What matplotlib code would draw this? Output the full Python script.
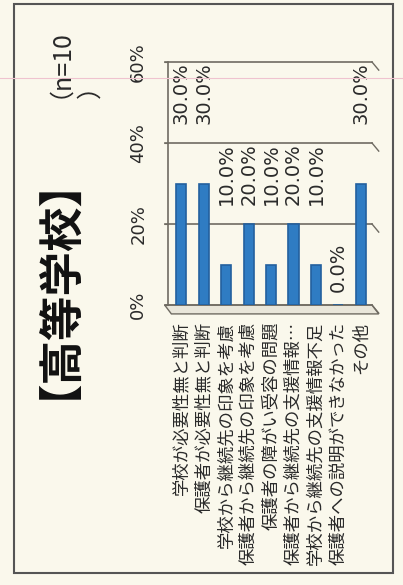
import matplotlib
matplotlib.use('Agg')
import matplotlib.pyplot as plt
from matplotlib.patches import Rectangle, Polygon

categories = ['学校が必要性無と判断',
              '保護者が必要性無と判断',
              '学校から継続先の印象を考慮',
              '保護者から継続先の印象を考慮',
              '保護者の障がい受容の問題',
              '保護者から継続先の支援情報…',
              '学校から継続先の支援情報不足',
              '保護者への説明ができなかった',
              'その他']
values = [0.30, 0.30, 0.10, 0.20, 0.10, 0.20, 0.10, 0.00, 0.30]
yticks = [0.0, 0.2, 0.4, 0.6]
ytick_labels = ['0%', '20%', '40%', '60%']
title = '【高等学校】'
note = '（n=10\n）'

W, H = 403, 585
bg = '#faf8ec'
bar_col = '#2f7cc3'
txt_col = '#2a2a2a'
grid_col = '#6f6b62'
cjk = ['Noto Sans CJK JP', 'DejaVu Sans']

fig = plt.figure(figsize=(W / 100, H / 100), dpi=100, facecolor=bg)

def fx(px):
    return px / W

def fy(py):
    return 1 - py / H

# outer frame of the scanned panel
fig.patches.append(Rectangle((fx(14), fy(573)), fx(393) - fx(14), fy(4) - fy(573),
                             transform=fig.transFigure, fill=False,
                             edgecolor='#555555', linewidth=1.5))
# faint pink scan line
fig.add_artist(plt.Line2D([0, 1], [fy(78), fy(78)], transform=fig.transFigure,
                          color='#efc3cf', linewidth=0.8))

ax = fig.add_axes([fx(168), fy(305), fx(372) - fx(168), fy(62) - fy(305)])
ax.set_facecolor('none')

x = list(range(len(categories)))
ax.bar(x, values, width=0.45, color=bar_col, edgecolor='#23609e',
       linewidth=1.2, zorder=3)

ax.set_xlim(-0.6, 8.5)
ax.set_ylim(0, 0.6)

# gridlines with a little 3D-like kink at the right end
for yv in yticks:
    ax.plot([-0.75, 8.5], [yv, yv], color=grid_col, linewidth=1.2,
            clip_on=False, zorder=2)
    ax.plot([8.5, 8.8], [yv, yv - 0.02], color=grid_col, linewidth=1.0,
            clip_on=False, zorder=2)

# floor of the pseudo 3D chart
floor = Polygon([(-0.75, 0), (8.5, 0), (8.8, -0.022), (-0.45, -0.022)],
                closed=True, facecolor='#e9e6da', edgecolor=grid_col,
                linewidth=1.0, clip_on=False, zorder=1)
ax.add_patch(floor)

for s in ['top', 'right', 'bottom']:
    ax.spines[s].set_visible(False)
ax.spines['left'].set_color(grid_col)
ax.spines['left'].set_linewidth(1.2)

ax.set_yticks(yticks)
ax.set_yticklabels(ytick_labels, rotation=90, va='center', fontsize=13,
                   color=txt_col, family='DejaVu Sans')
ax.tick_params(axis='y', length=3, pad=12, color=grid_col)

ax.set_xticks(x)
ax.set_xticklabels(categories, rotation=90, ha='center', va='top',
                   fontsize=12.5, color=txt_col, family=cjk)
ax.tick_params(axis='x', length=0, pad=12)

# data labels, placed the way the original spreadsheet put them
label_top = [0.60, 0.60, 0.40, 0.40, 0.40, 0.40, 0.40, 0.155, 0.60]
for i, v in enumerate(values):
    ax.text(i, label_top[i], f'{v * 100:.1f}%', rotation=90, ha='center',
            va='top', fontsize=14, color=txt_col, family='DejaVu Sans',
            zorder=4, clip_on=False)

fig.text(fx(36), fy(266), title, rotation=90, ha='center', va='center',
         fontsize=32, fontweight='bold', color='#111111', family=cjk)
fig.text(fx(34), fy(98), note, rotation=90, ha='left', va='bottom',
         multialignment='left', linespacing=1.85, fontsize=18,
         color=txt_col, family=cjk)

fig.savefig('out.png', dpi=100, facecolor=bg)
